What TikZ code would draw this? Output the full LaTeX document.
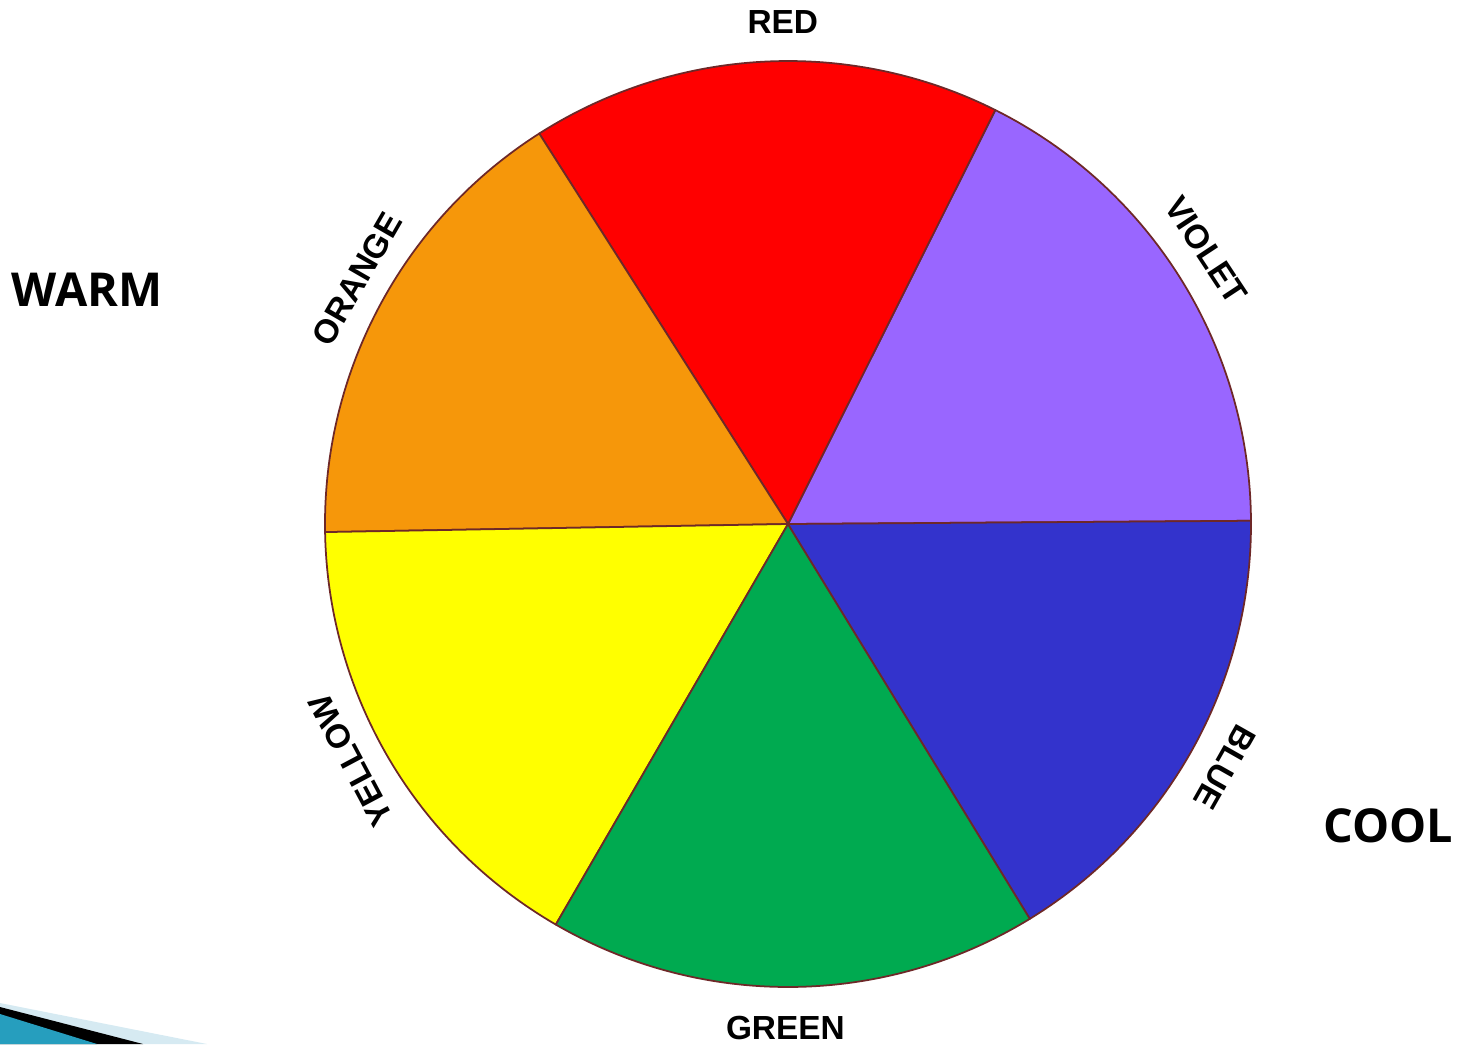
\documentclass[tikz,border=0pt]{standalone}
\usepackage{fontspec}
\setmainfont{Liberation Sans}
\newfontfamily\moodfont{Open Sans}
\usetikzlibrary{calc}

\definecolor{wheelred}{RGB}{255,0,0}
\definecolor{wheelorange}{RGB}{246,151,10}
\definecolor{wheelyellow}{RGB}{255,255,0}
\definecolor{wheelgreen}{RGB}{0,170,80}
\definecolor{wheelblue}{RGB}{51,51,204}
\definecolor{wheelviolet}{RGB}{153,102,255}
\definecolor{edgebrown}{RGB}{110,40,40}
\definecolor{stripelight}{RGB}{214,234,242}
\definecolor{stripeteal}{RGB}{38,158,190}

\begin{document}
\begin{tikzpicture}[
  sector/.style={draw=edgebrown, line width=0.5pt, line join=round},
  colorlabel/.style={font=\fontsize{9.5}{11}\selectfont\bfseries, inner sep=0pt},
  mood/.style={font=\moodfont\fontsize{13.3}{16}\selectfont\bfseries, inner sep=0pt}]
\useasboundingbox (0,0) rectangle (14.61,10.44);
\coordinate (hub) at (7.88,5.20);
% colour wheel
\foreach \from/\to/\col in {0.4/63.4/wheelviolet, 63.4/122.5/wheelred, 122.5/181/wheelorange,
    181/239.9/wheelyellow, 239.9/301.5/wheelgreen, 301.5/360.4/wheelblue}
  \filldraw[sector, fill=\col] (hub) -- ++(\from:4.63) arc[start angle=\from, end angle=\to, radius=4.63] -- cycle;
% names round the rim
\node[colorlabel] (red) at ($(hub)+(90.6:5.02)$) {RED};
\node[colorlabel, rotate=-56.6] (violet) at ($(hub)+(33.2:5.00)$) {VIOLET};
\node[colorlabel, rotate=-119.5] (blue) at ($(hub)+(-29.1:5.00)$) {BLUE};
\node[colorlabel] (green) at ($(hub)+(-90.3:5.04)$) {GREEN};
\node[colorlabel, rotate=118] (yellow) at ($(hub)+(208.4:4.97)$) {YELLOW};
\node[colorlabel, rotate=60] (orange) at ($(hub)+(150.4:4.96)$) {ORANGE};
\node[mood] (warm) at (0.87,7.54) {WARM};
\node[mood] (cool) at (13.88,2.18) {COOL};
% corner stripes
\fill[stripelight] (0,0) -- (0,0.41) -- (2.07,0) -- cycle;
\fill[black] (0,0) -- (0,0.37) -- (1.43,0) -- cycle;
\fill[stripeteal] (0,0) -- (0,0.30) -- (0.97,0) -- cycle;
\end{tikzpicture}
\end{document}
